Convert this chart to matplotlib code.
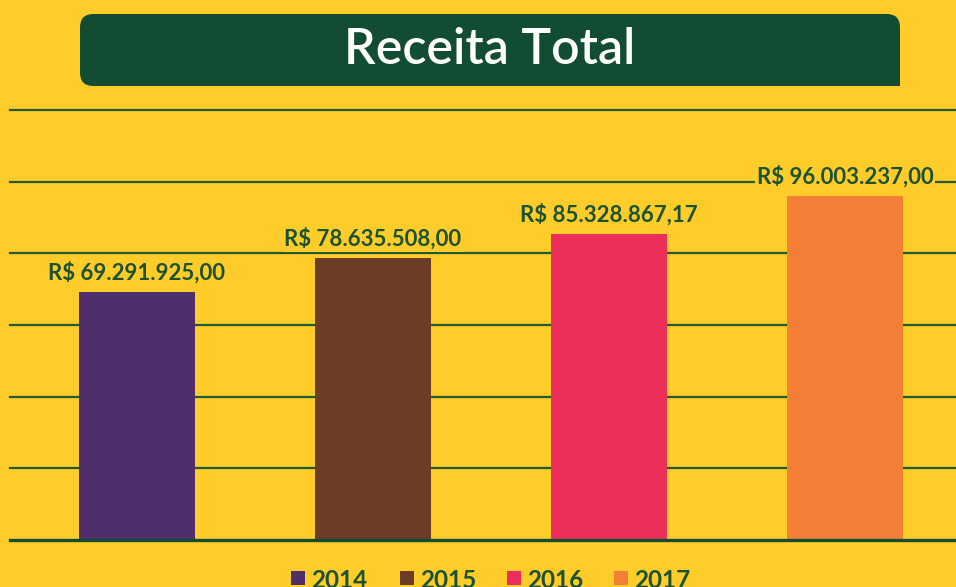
import matplotlib
matplotlib.use("Agg")
import matplotlib.pyplot as plt
from matplotlib.patches import FancyBboxPatch, Rectangle

years = ["2014", "2015", "2016", "2017"]
values = [69291925.00, 78635508.00, 85328867.17, 96003237.00]
labels = ["R$ 69.291.925,00", "R$ 78.635.508,00", "R$ 85.328.867,17", "R$ 96.003.237,00"]
colors = ["#4E2F6B", "#6B3D26", "#EE2E5A", "#F37F36"]
title = "Receita Total"

BG = "#FFCC29"
DARK = "#124C33"
TXT = "#1A5232"

W, H = 956, 587
fig = plt.figure(figsize=(W / 100, H / 100), dpi=100)
fig.patch.set_facecolor(BG)

def px(x0, y0, x1, y1):
    return [x0 / W, 1 - y1 / H, (x1 - x0) / W, (y1 - y0) / H]

ax = fig.add_axes(px(10, 110, 956, 540))
ax.set_facecolor(BG)
xs = list(range(len(years)))
xmin = -127 / 236
ax.set_xlim(xmin, xmin + 946 / 236)
ax.set_ylim(0, 120e6)
ax.bar(xs, values, width=116 / 236, color=colors, zorder=3)
for y in [20e6, 40e6, 60e6, 80e6, 100e6, 120e6]:
    ax.axhline(y, color="#1E5A34", lw=1.6, zorder=1, clip_on=False)
ax.axhline(0, color=DARK, lw=2.4, zorder=4, clip_on=False)
for s in ax.spines.values():
    s.set_visible(False)
ax.set_xticks([])
ax.set_yticks([])
for x, v, lab in zip(xs, values, labels):
    ax.annotate(lab, (x, v), xytext=(0, 6), textcoords="offset points",
                ha="center", va="bottom", fontsize=16, fontweight="bold",
                family="Lato", color=TXT, zorder=5,
                bbox=dict(boxstyle="square,pad=0.08", facecolor=BG, edgecolor="none"))

# title banner
bx0, by0, bx1, by1 = 80, 14, 900, 86
banner = FancyBboxPatch((bx0 / W, 1 - by1 / H), (bx1 - bx0) / W, (by1 - by0) / H,
                        boxstyle="round,pad=0,rounding_size=0.014",
                        transform=fig.transFigure, facecolor=DARK, edgecolor="none",
                        mutation_aspect=W / H)
fig.patches.append(banner)
fig.patches.append(Rectangle(((bx1 - 20) / W, 1 - by1 / H), 20 / W, 20 / H,
                             transform=fig.transFigure, facecolor=DARK, edgecolor="none"))
fig.text(490 / W, 1 - 50 / H, title, ha="center", va="center", color="white",
         fontsize=36, family="Lato", fontweight="semibold")

# legend
leg_x = [291, 400, 507, 614]
for lx, c, yr in zip(leg_x, colors, years):
    fig.patches.append(Rectangle((lx / W, 1 - 585 / H), 14 / W, 14 / H,
                                 transform=fig.transFigure, facecolor=c, edgecolor="none"))
    fig.text((lx + 20) / W, 1 - 588 / H, yr, ha="left", va="baseline", color=TXT,
             fontsize=17.5, family="Lato", fontweight="bold")

fig.savefig("out.png", dpi=100, facecolor=BG)
